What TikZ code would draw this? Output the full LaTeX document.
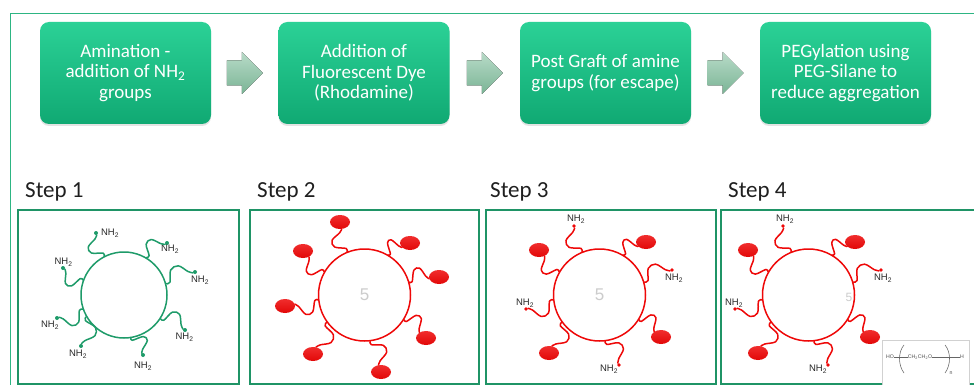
\documentclass[tikz,border=0pt]{standalone}
\usepackage{fontspec}
\setmainfont{Carlito}
\newfontfamily\chemfont{Liberation Sans}
\usetikzlibrary{calc,shapes.geometric,shadows}

\definecolor{frameline}{HTML}{2DB583}
\definecolor{stepframe}{HTML}{1F9466}
\definecolor{boxtop}{HTML}{2BD196}
\definecolor{boxbottom}{HTML}{10A973}
\definecolor{arrowtop}{HTML}{B8DBC8}
\definecolor{arrowbottom}{HTML}{7AB495}
\definecolor{chaingreen}{HTML}{1E9B69}
\definecolor{dyered}{HTML}{EE0808}
\definecolor{labelgrey}{HTML}{2A2A2A}

\tikzset{
  stage/.style={rounded corners=9pt, minimum width=171pt, minimum height=102pt,
    inner sep=0pt, top color=boxtop, bottom color=boxbottom, text=white,
    align=center, font=\fontsize{19}{20.5}\selectfont,
    drop shadow={opacity=.22, shadow xshift=0pt, shadow yshift=-2pt}},
  panel/.style={draw=stepframe, line width=1.6pt, minimum height=174pt,
    anchor=north west, inner sep=0pt},
  steplabel/.style={anchor=base west, font=\fontsize{23}{26}\selectfont,
    text=black!88, inner sep=0pt},
  greencore/.style={circle, draw=chaingreen, fill=white, line width=1.5pt,
    minimum size=86pt, inner sep=0pt},
  redcore/.style={circle, draw=dyered, fill=white, line width=1.5pt,
    minimum size=92pt, inner sep=0pt},
  ghost/.style={font=\chemfont\fontsize{17}{17}\selectfont, text=black!20, inner sep=0pt},
  greendot/.style={circle, fill=chaingreen, minimum size=4pt, inner sep=0pt},
  reddot/.style={circle, fill=dyered, minimum size=3.8pt, inner sep=0pt},
  dye/.style={ellipse, top color=dyered!85!white, bottom color=dyered!95!black,
    minimum width=20pt, minimum height=14pt, inner sep=0pt},
  amine/.style={font=\chemfont\fontsize{9.5}{10}\selectfont, text=labelgrey, inner sep=0pt},
  arrowbody/.style={top color=arrowtop, bottom color=arrowbottom},
  arm/.style={line width=1.5pt, line cap=round, line join=round},
  pegtext/.style={font=\chemfont\fontsize{5.2}{6}\selectfont, text=black!70, inner sep=0pt},
}

% a wavy tether from a point on a particle to an end group:
% it leaves radially, steps out to the left of its direction of travel,
% runs parallel for a while and comes back in to the end group
\newcommand\tether[3]{%
  \path (#2) -- (#3) coordinate[pos=0] (tA) coordinate[pos=1] (tF);
  \coordinate (tB) at ($(tA)!0.14!(tF)$);
  \coordinate (tC) at ($(tA)!0.32!(tF)!11pt!90:(tF)$);
  \coordinate (tD) at ($(tA)!0.62!(tF)!12pt!90:(tF)$);
  \coordinate (tE) at ($(tA)!0.86!(tF)!3pt!90:(tF)$);
  \draw[arm, #1] plot[smooth, tension=0.6] coordinates {(tA) (tB) (tC) (tD) (tE) (tF)};
}

\begin{document}
\begin{tikzpicture}[x=1pt, y=-1pt]
\useasboundingbox (0,0) rectangle (974,385);
\fill[white] (0,0) rectangle (974,385);

% outer frame
\draw[frameline, line width=0.8pt] (10,385) -- (10,13) -- (974,13);

% process stages
\node[stage] (s1) at (125.5,73) {Amination -\\addition of NH\textsubscript{2}\\groups};
\node[stage] (s2) at (364,73) {Addition of\\Fluorescent Dye\\(Rhodamine)};
\node[stage] (s3) at (605.5,73) {Post Graft of amine\\groups (for escape)};
\node[stage] (s4) at (845.5,73) {PEGylation using\\PEG-Silane to\\reduce aggregation};

% block arrows between stages
\foreach \u/\v/\k in {s1/s2/1, s2/s3/2, s3/s4/3}{
  \coordinate (m\k) at ($(\u.east)!0.5!(\v.west)$);
  \fill[arrowbody] ($(m\k)+(-18,-12.5)$) -- ($(m\k)+(-3,-12.5)$) -- ($(m\k)+(-3,-21)$)
    -- ($(m\k)+(18,0)$) -- ($(m\k)+(-3,21)$) -- ($(m\k)+(-3,12.5)$)
    -- ($(m\k)+(-18,12.5)$) -- cycle;
}

% step panels
\node[panel, minimum width=221pt] (b1) at (17,209) {};
\node[panel, minimum width=229pt] (b2) at (249,209) {};
\node[panel, minimum width=230pt] (b3) at (485,209) {};
\node[panel, minimum width=262pt] (b4) at (720,209) {};

\node[steplabel] (t1) at (25,197) {Step 1};
\node[steplabel] (t2) at (257,197) {Step 2};
\node[steplabel] (t3) at (490,197) {Step 3};
\node[steplabel] (t4) at (728,197) {Step 4};

% ---- step 1: aminated particle
\node[greencore] (p1) at (124,295) {};
\foreach \a/\dx/\dy/\lx/\ly [count=\i] in {
   117/-28/-62/-14/-62, 59/43/-52/46/-46, 15/71/-23/76/-15, 327/61/35/60.5/42.5,
   279/19/60/19/71, 210/-43/51/-46/59, 199/-67/23/-74/30, 160/-61/-27/-60.5/-33}{
  \node[greendot] (p1d\i) at ($(p1.center)+(\dx,\dy)$) {};
  \node[amine] (p1l\i) at ($(p1.center)+(\lx,\ly)$) {NH\textsubscript{2}};
  \tether{chaingreen}{p1.\a}{p1d\i}
}

% ---- step 2: dye-labelled particle
\node[redcore] (p2) at (364.5,295) {};
\node[ghost] (g2) at (p2.center) {5};
\foreach \a/\dx/\dy [count=\i] in {
   112/-24.5/-73, 59/45.5/-52, 16/74.5/-18, 328/61.5/43,
   277/16.5/77, 216/-51.5/59, 186/-79.5/11, 150/-61.5/-44}{
  \node[dye] (p2d\i) at ($(p2.center)+(\dx,\dy)$) {};
  \tether{dyered}{p2.\a}{p2d\i}
}

% ---- steps 3 and 4: dye plus post-grafted amines
\foreach \q/\cx in {p3/599.5, p4/808.5}{
  \node[redcore] (\q) at (\cx,295) {};
  \foreach \a/\dx/\dy [count=\i] in {59/46.5/-53, 328/61.5/42, 216/-50.5/58, 150/-60.5/-45}{
    \node[dye] (\q d\i) at ($(\q.center)+(\dx,\dy)$) {};
    \tether{dyered}{\q.\a}{\q d\i}
  }
  \foreach \a/\dx/\dy/\lx/\ly [count=\i] in {
     112/-25.5/-69/-23.5/-76, 16/72.5/-25/74.5/-17,
     277/19.5/70/9.5/74, 186/-73.5/14/-74.5/8}{
    \node[reddot] (\q n\i) at ($(\q.center)+(\dx,\dy)$) {};
    \node[amine] (\q l\i) at ($(\q.center)+(\lx,\ly)$) {NH\textsubscript{2}};
    \tether{dyered}{\q.\a}{\q n\i}
  }
}
\node[ghost] (g3) at (p3.center) {5};
\node[ghost, font=\chemfont\fontsize{12}{12}\selectfont] (g4) at (849,297) {5};

% PEG structure inset
\node[draw=black!18, fill=white, line width=0.6pt, minimum width=87pt,
  minimum height=46pt, anchor=north west, inner sep=0pt] (peg) at (882,340) {};
\node[pegtext] (ho) at (890,357) {HO};
\node[pegtext] (rep) at (920,357) {CH\textsubscript{2}CH\textsubscript{2}O};
\node[pegtext] (hend) at (962,357) {H};
\node[pegtext] (nsub) at (951,373) {n};
\draw[black!60, line width=0.45pt] (ho.east) -- (rep.west);
\draw[black!60, line width=0.45pt] (rep.east) -- (hend.west);
\draw[black!60, line width=0.55pt] (904,345) .. controls (898,352) and (898,365) .. (904,373);
\draw[black!60, line width=0.55pt] (945,345) .. controls (951,352) and (951,365) .. (945,373);
\end{tikzpicture}
\end{document}
